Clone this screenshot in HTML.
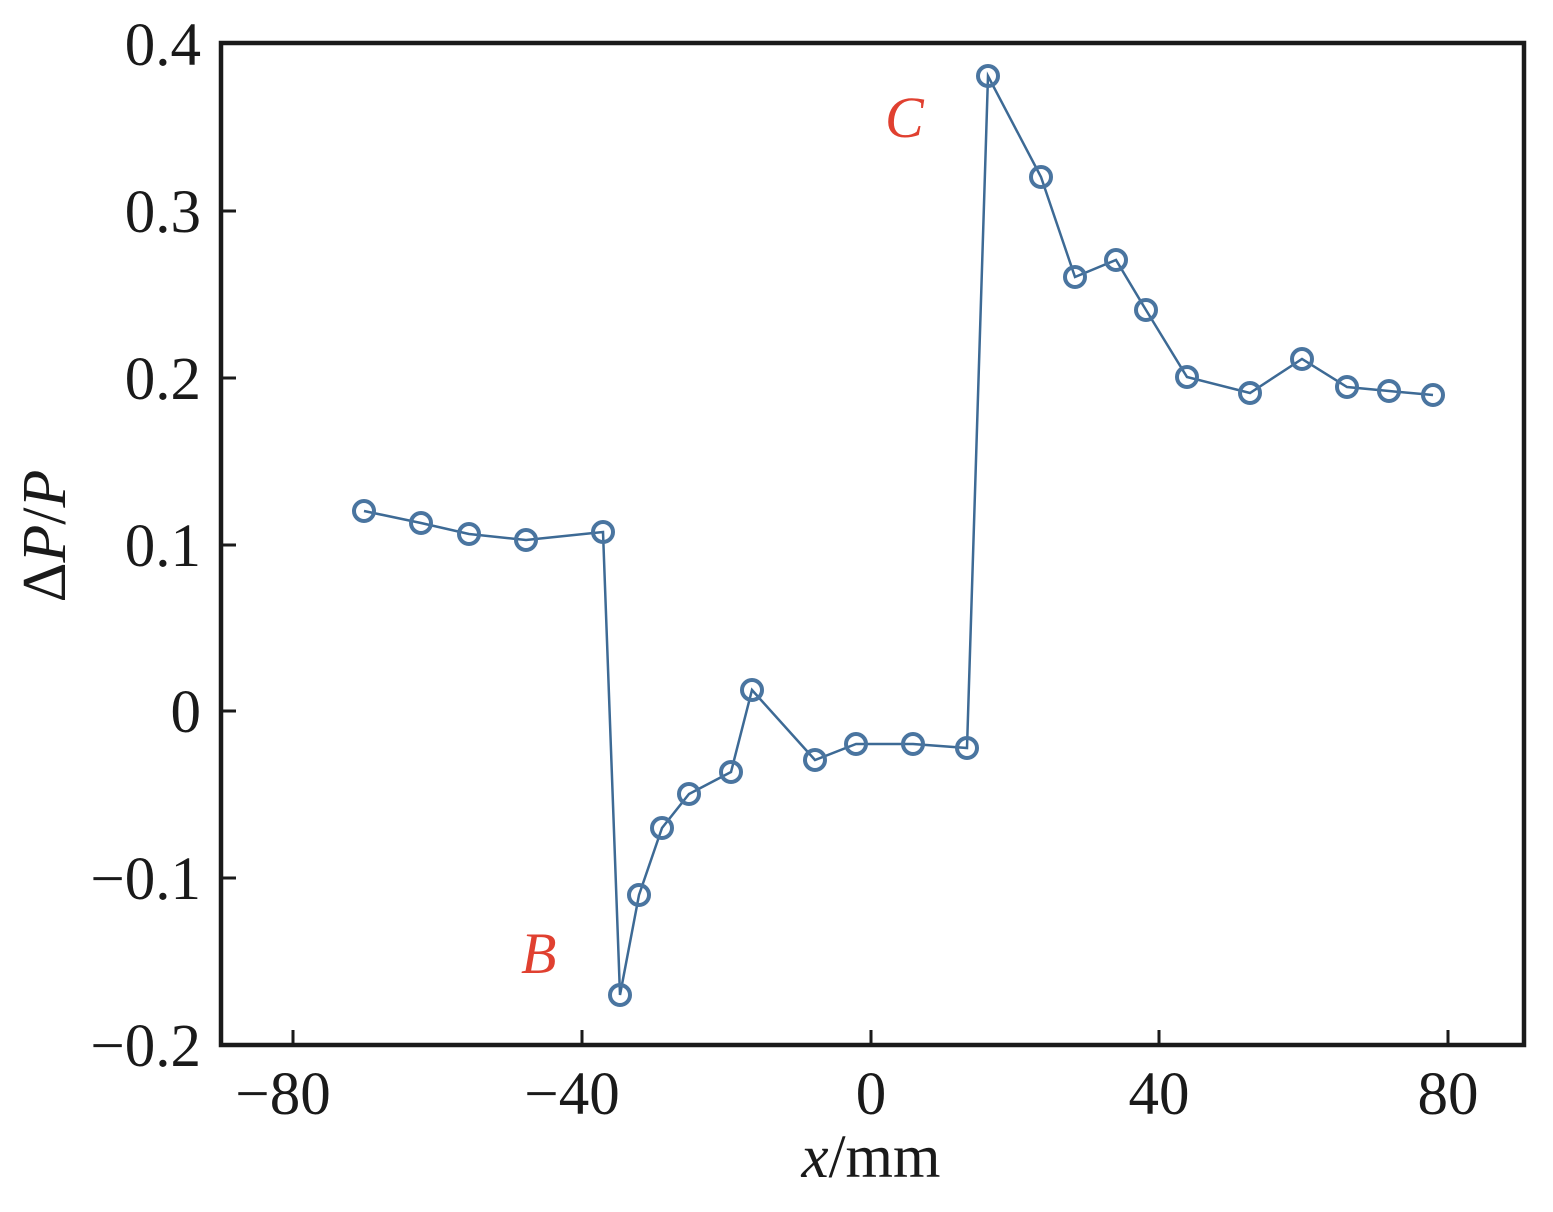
<!DOCTYPE html>
<html><head><meta charset="utf-8"><style>body{margin:0;background:#fff}</style></head><body>
<svg width="1553" height="1207" xmlns="http://www.w3.org/2000/svg" font-family="Liberation Serif, serif" fill="#1a1a1a">
<rect x="221" y="43" width="1303" height="1002" fill="none" stroke="#1a1a1a" stroke-width="4.5"/>
<g stroke="#1a1a1a" stroke-width="3">
<line x1="221" y1="211" x2="236" y2="211"/><line x1="221" y1="378" x2="236" y2="378"/><line x1="221" y1="545" x2="236" y2="545"/><line x1="221" y1="711" x2="236" y2="711"/><line x1="221" y1="878" x2="236" y2="878"/>
<line x1="293" y1="1045" x2="293" y2="1030"/><line x1="582" y1="1045" x2="582" y2="1030"/><line x1="871" y1="1045" x2="871" y2="1030"/><line x1="1159" y1="1045" x2="1159" y2="1030"/><line x1="1448" y1="1045" x2="1448" y2="1030"/>
</g>
<g font-size="61" text-anchor="end">
<text x="201" y="65">0.4</text><text x="201" y="232">0.3</text><text x="201" y="399">0.2</text><text x="201" y="566">0.1</text><text x="201" y="732">0</text><text x="201" y="899">−0.1</text><text x="201" y="1066">−0.2</text>
</g>
<g font-size="61" text-anchor="middle">
<text x="283" y="1114">−80</text><text x="572" y="1114">−40</text><text x="871" y="1114">0</text><text x="1159" y="1114">40</text><text x="1448" y="1114">80</text>
<text x="871" y="1177"><tspan font-style="italic">x</tspan>/mm</text>
</g>
<text transform="translate(65,536) rotate(-90)" font-size="62" text-anchor="middle">Δ<tspan font-style="italic">P</tspan>/<tspan font-style="italic">P</tspan></text>
<text x="885" y="137" font-size="58" font-style="italic" fill="#e04030">C</text>
<text x="521" y="973" font-size="58" font-style="italic" fill="#e04030">B</text>
<polyline fill="none" stroke="#3d6a95" stroke-width="2.5" points="364,511 421,523 469,534 526,540 603,532 620,995 639,895 662,828 689,794 731,772 752,690 815,760 856,744 913,744 967,748 988,76 1041,177 1075,277 1116,260 1146,310 1187,377 1250,393 1302,359 1347,387 1389,391 1433,395"/>
<g fill="none" stroke="#4a75a0" stroke-width="4">
<circle cx="364" cy="511" r="10"/><circle cx="421" cy="523" r="10"/><circle cx="469" cy="534" r="10"/><circle cx="526" cy="540" r="10"/><circle cx="603" cy="532" r="10"/><circle cx="620" cy="995" r="10"/><circle cx="639" cy="895" r="10"/><circle cx="662" cy="828" r="10"/><circle cx="689" cy="794" r="10"/><circle cx="731" cy="772" r="10"/><circle cx="752" cy="690" r="10"/><circle cx="815" cy="760" r="10"/><circle cx="856" cy="744" r="10"/><circle cx="913" cy="744" r="10"/><circle cx="967" cy="748" r="10"/><circle cx="988" cy="76" r="10"/><circle cx="1041" cy="177" r="10"/><circle cx="1075" cy="277" r="10"/><circle cx="1116" cy="260" r="10"/><circle cx="1146" cy="310" r="10"/><circle cx="1187" cy="377" r="10"/><circle cx="1250" cy="393" r="10"/><circle cx="1302" cy="359" r="10"/><circle cx="1347" cy="387" r="10"/><circle cx="1389" cy="391" r="10"/><circle cx="1433" cy="395" r="10"/>
</g>
</svg>
</body></html>
